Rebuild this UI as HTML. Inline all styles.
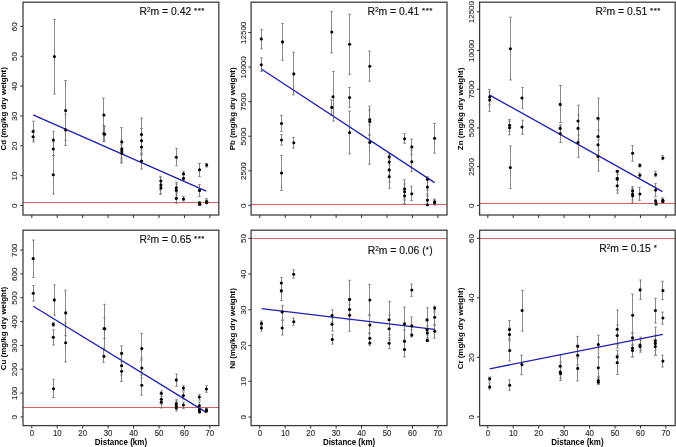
<!DOCTYPE html>
<html><head><meta charset="utf-8"><title>Metal concentrations vs distance</title>
<style>
html,body{margin:0;padding:0;background:#fff;}
body{width:676px;height:447px;overflow:hidden;}
svg{display:block;will-change:transform;}
text{font-family:"Liberation Sans",sans-serif;}
.tl{font-size:7.6px;fill:#262626;stroke:#333;stroke-width:0.12px;}
.yl{font-size:8px;}
.yt{font-size:7.95px;font-weight:bold;fill:#000;}
.xt{font-size:8px;font-weight:bold;fill:#000;}
.r2{font-size:10.35px;fill:#111;stroke:#111;stroke-width:0.15px;}
.sup{font-size:6.4px;}
.st{font-size:8px;letter-spacing:0.5px;}
</style></head>
<body>
<svg width="676" height="447" viewBox="0 0 676 447">
<rect width="676" height="447" fill="#fff"/>
<g><line x1="23" y1="202.5" x2="218.8" y2="202.5" stroke="#d46262" stroke-width="1"/><path d="M33.5 121.2V140M32.2 121.2h2.6M32.2 140h2.6M33.5 130V141.9M32.2 130h2.6M32.2 141.9h2.6M53.5 131.3V149M52.2 131.3h2.6M52.2 149h2.6M53.5 142V155.5M52.2 142h2.6M52.2 155.5h2.6M53.5 155.5V193.9M52.2 155.5h2.6M52.2 193.9h2.6M54.5 19.5V94M53.2 19.5h2.6M53.2 94h2.6M65.5 80.6V140.3M64.2 80.6h2.6M64.2 140.3h2.6M65.5 114.3V145.4M64.2 114.3h2.6M64.2 145.4h2.6M103.5 98.1V133M102.2 98.1h2.6M102.2 133h2.6M103.5 125.7V141.7M102.2 125.7h2.6M102.2 141.7h2.6M104.5 126V141M103.2 126h2.6M103.2 141h2.6M121.5 127.6V158M120.2 127.6h2.6M120.2 158h2.6M121.5 140V160M120.2 140h2.6M120.2 160h2.6M121.5 142V163.2M120.2 142h2.6M120.2 163.2h2.6M121.5 145V162M120.2 145h2.6M120.2 162h2.6M141.5 118.2V150M140.2 118.2h2.6M140.2 150h2.6M141.5 128.4V155M140.2 128.4h2.6M140.2 155h2.6M141.5 140V154M140.2 140h2.6M140.2 154h2.6M141.5 153V169.1M140.2 153h2.6M140.2 169.1h2.6M160.5 176.3V190M159.2 176.3h2.6M159.2 190h2.6M160.5 178V194.3M159.2 178h2.6M159.2 194.3h2.6M160.5 181V194M159.2 181h2.6M159.2 194h2.6M176.5 148.3V165.8M175.2 148.3h2.6M175.2 165.8h2.6M176.5 182.3V195M175.2 182.3h2.6M175.2 195h2.6M176.5 184V198M175.2 184h2.6M175.2 198h2.6M176.5 193V203.4M175.2 193h2.6M175.2 203.4h2.6M183.5 171.3V178M182.2 171.3h2.6M182.2 178h2.6M183.5 175V180.4M182.2 175h2.6M182.2 180.4h2.6M183.5 196.4V201M182.2 196.4h2.6M182.2 201h2.6M199.5 163.5V176.5M198.2 163.5h2.6M198.2 176.5h2.6M199.5 184.6V196.4M198.2 184.6h2.6M198.2 196.4h2.6M199.5 201.5V204.5M198.2 201.5h2.6M198.2 204.5h2.6M199.5 202.5V205.5M198.2 202.5h2.6M198.2 205.5h2.6M206.5 163.5V167M205.2 163.5h2.6M205.2 167h2.6M206.5 198.7V203M205.2 198.7h2.6M205.2 203h2.6M206.5 200V203.9M205.2 200h2.6M205.2 203.9h2.6" stroke="#7a7a7a" stroke-width="0.9" fill="none"/><line x1="33.1" y1="114.9" x2="206.2" y2="191.2" stroke="#2020a8" stroke-width="1.3"/><circle cx="33.1" cy="131.5" r="1.55"/><circle cx="33.1" cy="136.8" r="1.55"/><circle cx="53.3" cy="140" r="1.55"/><circle cx="53.3" cy="149" r="1.55"/><circle cx="53.3" cy="174.8" r="1.55"/><circle cx="54.4" cy="56.6" r="1.55"/><circle cx="65.6" cy="110.6" r="1.55"/><circle cx="65.6" cy="129.9" r="1.55"/><circle cx="103.9" cy="115.1" r="1.55"/><circle cx="103.9" cy="133.8" r="1.55"/><circle cx="104.7" cy="134.3" r="1.55"/><circle cx="121.8" cy="142" r="1.55"/><circle cx="121.8" cy="148.9" r="1.55"/><circle cx="121.8" cy="151" r="1.55"/><circle cx="121.8" cy="153.2" r="1.55"/><circle cx="141.5" cy="134.5" r="1.55"/><circle cx="141.5" cy="140.8" r="1.55"/><circle cx="141.5" cy="147" r="1.55"/><circle cx="141.5" cy="161" r="1.55"/><circle cx="160.9" cy="181" r="1.55"/><circle cx="160.9" cy="184.9" r="1.55"/><circle cx="160.9" cy="187.9" r="1.55"/><circle cx="176.3" cy="157.2" r="1.55"/><circle cx="176.3" cy="187.8" r="1.55"/><circle cx="176.3" cy="190.4" r="1.55"/><circle cx="176.3" cy="198.4" r="1.55"/><circle cx="183.5" cy="173.7" r="1.55"/><circle cx="183.5" cy="178.4" r="1.55"/><circle cx="183.5" cy="199" r="1.55"/><circle cx="199.5" cy="169.8" r="1.55"/><circle cx="199.5" cy="190.4" r="1.55"/><circle cx="199.5" cy="203.1" r="1.55"/><circle cx="199.9" cy="204.2" r="1.55"/><circle cx="206.7" cy="165.1" r="1.55"/><circle cx="206.7" cy="201.5" r="1.55"/><circle cx="206.7" cy="202.6" r="1.55"/><rect x="23" y="2.2" width="195.8" height="212.8" fill="none" stroke="#383838" stroke-width="1.25"/><path d="M23 205.5h-2.7M23 175.65h-2.7M23 145.8h-2.7M23 115.95h-2.7M23 86.1h-2.7M23 56.25h-2.7M23 26.4h-2.7M31.8 215v3M57.24 215v3M82.68 215v3M108.12 215v3M133.56 215v3M159 215v3M184.44 215v3M209.88 215v3" stroke="#333" stroke-width="1" fill="none"/><text class="tl yl" transform="translate(17.4 205.8) rotate(-90)" text-anchor="middle">0</text><text class="tl yl" transform="translate(17.4 175.95) rotate(-90)" text-anchor="middle">10</text><text class="tl yl" transform="translate(17.4 146.1) rotate(-90)" text-anchor="middle">20</text><text class="tl yl" transform="translate(17.4 116.25) rotate(-90)" text-anchor="middle">30</text><text class="tl yl" transform="translate(17.4 86.4) rotate(-90)" text-anchor="middle">40</text><text class="tl yl" transform="translate(17.4 56.55) rotate(-90)" text-anchor="middle">50</text><text class="tl yl" transform="translate(17.4 26.7) rotate(-90)" text-anchor="middle">60</text><text class="yt" transform="translate(6.4 108.9) rotate(-90)" text-anchor="middle">Cd (mg/kg dry weight)</text><text class="r2" x="172.23" y="15.3" text-anchor="middle">R<tspan class="sup" dy="-3.6">2</tspan><tspan dy="3.6">m</tspan> = 0.42 <tspan class="st" dy="-2.6">***</tspan></text></g>
<g><line x1="251.1" y1="204.5" x2="447" y2="204.5" stroke="#d46262" stroke-width="1"/><path d="M261.5 29.6V48.8M260.2 29.6h2.6M260.2 48.8h2.6M261.5 57.9V71.4M260.2 57.9h2.6M260.2 71.4h2.6M282.5 23.4V60.3M281.2 23.4h2.6M281.2 60.3h2.6M281.5 115.6V131.4M280.2 115.6h2.6M280.2 131.4h2.6M281.5 134.6V145.1M280.2 134.6h2.6M280.2 145.1h2.6M281.5 155.5V190.5M280.2 155.5h2.6M280.2 190.5h2.6M293.5 52.2V94.8M292.2 52.2h2.6M292.2 94.8h2.6M293.5 137.5V148.1M292.2 137.5h2.6M292.2 148.1h2.6M331.5 11.6V53M330.2 11.6h2.6M330.2 53h2.6M333.5 71.4V121.1M332.2 71.4h2.6M332.2 121.1h2.6M331.5 100V115M330.2 100h2.6M330.2 115h2.6M349.5 14.3V74.4M348.2 14.3h2.6M348.2 74.4h2.6M349.5 87.4V107.3M348.2 87.4h2.6M348.2 107.3h2.6M349.5 111.2V153.8M348.2 111.2h2.6M348.2 153.8h2.6M369.5 51V81.2M368.2 51h2.6M368.2 81.2h2.6M369.5 106.2V135M368.2 106.2h2.6M368.2 135h2.6M369.5 110V135M368.2 110h2.6M368.2 135h2.6M369.5 125V164.1M368.2 125h2.6M368.2 164.1h2.6M389.5 153.5V170M388.2 153.5h2.6M388.2 170h2.6M389.5 155V175M388.2 155h2.6M388.2 175h2.6M389.5 160V182M388.2 160h2.6M388.2 182h2.6M389.5 165V188.3M388.2 165h2.6M388.2 188.3h2.6M404.5 133.6V143.3M403.2 133.6h2.6M403.2 143.3h2.6M404.5 179.7V198M403.2 179.7h2.6M403.2 198h2.6M404.5 184V200M403.2 184h2.6M403.2 200h2.6M404.5 188V203.5M403.2 188h2.6M403.2 203.5h2.6M411.5 139V154.3M410.2 139h2.6M410.2 154.3h2.6M411.5 150V171.5M410.2 150h2.6M410.2 171.5h2.6M411.5 186.2V200.6M410.2 186.2h2.6M410.2 200.6h2.6M427.5 176.8V190M426.2 176.8h2.6M426.2 190h2.6M427.5 180V196M426.2 180h2.6M426.2 196h2.6M427.5 194V205M426.2 194h2.6M426.2 205h2.6M427.5 201V205M426.2 201h2.6M426.2 205h2.6M434.5 123.5V153.2M433.2 123.5h2.6M433.2 153.2h2.6M434.5 199V204.8M433.2 199h2.6M433.2 204.8h2.6M434.5 200V204.8M433.2 200h2.6M433.2 204.8h2.6" stroke="#7a7a7a" stroke-width="0.9" fill="none"/><line x1="261.3" y1="69" x2="434.6" y2="182.6" stroke="#2020a8" stroke-width="1.3"/><circle cx="261.3" cy="38.9" r="1.55"/><circle cx="261.3" cy="64.8" r="1.55"/><circle cx="282.5" cy="41.9" r="1.55"/><circle cx="281.5" cy="123.5" r="1.55"/><circle cx="281.5" cy="140" r="1.55"/><circle cx="281.5" cy="173" r="1.55"/><circle cx="293.8" cy="73.9" r="1.55"/><circle cx="293.8" cy="142.7" r="1.55"/><circle cx="331.8" cy="32" r="1.55"/><circle cx="333" cy="96.8" r="1.55"/><circle cx="331.8" cy="107.4" r="1.55"/><circle cx="349.6" cy="44.3" r="1.55"/><circle cx="349.6" cy="97.6" r="1.55"/><circle cx="349.6" cy="132.6" r="1.55"/><circle cx="369.8" cy="66.2" r="1.55"/><circle cx="369.8" cy="119.5" r="1.55"/><circle cx="369.8" cy="121.5" r="1.55"/><circle cx="369.8" cy="142.4" r="1.55"/><circle cx="389.2" cy="156.9" r="1.55"/><circle cx="389.2" cy="162.1" r="1.55"/><circle cx="389.2" cy="169.9" r="1.55"/><circle cx="389.2" cy="176.7" r="1.55"/><circle cx="404.6" cy="138.8" r="1.55"/><circle cx="404.6" cy="189" r="1.55"/><circle cx="404.6" cy="191.8" r="1.55"/><circle cx="404.6" cy="195.8" r="1.55"/><circle cx="411.8" cy="146.9" r="1.55"/><circle cx="411.8" cy="161.7" r="1.55"/><circle cx="411.8" cy="193.8" r="1.55"/><circle cx="427.4" cy="179.3" r="1.55"/><circle cx="427.4" cy="187.1" r="1.55"/><circle cx="427.4" cy="200.1" r="1.55"/><circle cx="427.4" cy="204.8" r="1.55"/><circle cx="434.6" cy="138.2" r="1.55"/><circle cx="434.6" cy="201.8" r="1.55"/><circle cx="434.6" cy="203" r="1.55"/><rect x="251.1" y="2.2" width="195.9" height="212.8" fill="none" stroke="#383838" stroke-width="1.25"/><path d="M251.1 205.4h-2.7M251.1 170.82h-2.7M251.1 136.24h-2.7M251.1 101.66h-2.7M251.1 67.08h-2.7M251.1 32.5h-2.7M259.8 215v3M285.24 215v3M310.68 215v3M336.12 215v3M361.56 215v3M387 215v3M412.44 215v3M437.88 215v3" stroke="#333" stroke-width="1" fill="none"/><text class="tl yl" transform="translate(245.5 205.7) rotate(-90)" text-anchor="middle">0</text><text class="tl yl" transform="translate(245.5 171.12) rotate(-90)" text-anchor="middle">2500</text><text class="tl yl" transform="translate(245.5 136.54) rotate(-90)" text-anchor="middle">5000</text><text class="tl yl" transform="translate(245.5 101.96) rotate(-90)" text-anchor="middle">7500</text><text class="tl yl" transform="translate(245.5 67.38) rotate(-90)" text-anchor="middle">10000</text><text class="tl yl" transform="translate(245.5 32.8) rotate(-90)" text-anchor="middle">12500</text><text class="yt" transform="translate(234.5 108.9) rotate(-90)" text-anchor="middle">Pb (mg/kg dry weight)</text><text class="r2" x="400.23" y="15.3" text-anchor="middle">R<tspan class="sup" dy="-3.6">2</tspan><tspan dy="3.6">m</tspan> = 0.41 <tspan class="st" dy="-2.6">***</tspan></text></g>
<g><line x1="479.6" y1="203.5" x2="675.2" y2="203.5" stroke="#d46262" stroke-width="1"/><path d="M489.5 89.4V105M488.2 89.4h2.6M488.2 105h2.6M489.5 92V111.3M488.2 92h2.6M488.2 111.3h2.6M510.5 17.2V80M509.2 17.2h2.6M509.2 80h2.6M509.5 119.5V131M508.2 119.5h2.6M508.2 131h2.6M509.5 121V134.8M508.2 121h2.6M508.2 134.8h2.6M510.5 146V188.6M509.2 146h2.6M509.2 188.6h2.6M522.5 87.4V108.2M521.2 87.4h2.6M521.2 108.2h2.6M522.5 120.2V134.3M521.2 120.2h2.6M521.2 134.3h2.6M560.5 85.5V122.5M559.2 85.5h2.6M559.2 122.5h2.6M560.5 124.8V133M559.2 124.8h2.6M559.2 133h2.6M560.5 126V142.5M559.2 126h2.6M559.2 142.5h2.6M578.5 105.2V135M577.2 105.2h2.6M577.2 135h2.6M578.5 115V140M577.2 115h2.6M577.2 140h2.6M578.5 128V157.3M577.2 128h2.6M577.2 157.3h2.6M598.5 98.1V137M597.2 98.1h2.6M597.2 137h2.6M598.5 120V150M597.2 120h2.6M597.2 150h2.6M598.5 130V160M597.2 130h2.6M597.2 160h2.6M598.5 140V171M597.2 140h2.6M597.2 171h2.6M617.5 170.5V180M616.2 170.5h2.6M616.2 180h2.6M617.5 172V186M616.2 172h2.6M616.2 186h2.6M617.5 174V190M616.2 174h2.6M616.2 190h2.6M617.5 178V193.2M616.2 178h2.6M616.2 193.2h2.6M632.5 145.5V161.1M631.2 145.5h2.6M631.2 161.1h2.6M632.5 186.7V197M631.2 186.7h2.6M631.2 197h2.6M632.5 188V200M631.2 188h2.6M631.2 200h2.6M632.5 190V202.6M631.2 190h2.6M631.2 202.6h2.6M639.5 164V167M638.2 164h2.6M638.2 167h2.6M639.5 172.9V177.6M638.2 172.9h2.6M638.2 177.6h2.6M639.5 187.3V200.3M638.2 187.3h2.6M638.2 200.3h2.6M655.5 171.3V176.8M654.2 171.3h2.6M654.2 176.8h2.6M655.5 183.4V196.4M654.2 183.4h2.6M654.2 196.4h2.6M655.5 199V203.5M654.2 199h2.6M654.2 203.5h2.6M656.5 202V205M655.2 202h2.6M655.2 205h2.6M662.5 155.7V159.6M661.2 155.7h2.6M661.2 159.6h2.6M662.5 197.9V202M661.2 197.9h2.6M661.2 202h2.6M662.5 199V202.6M661.2 199h2.6M661.2 202.6h2.6" stroke="#7a7a7a" stroke-width="0.9" fill="none"/><line x1="489.7" y1="95.1" x2="662.5" y2="191.6" stroke="#2020a8" stroke-width="1.3"/><circle cx="489.7" cy="96.9" r="1.55"/><circle cx="489.7" cy="100" r="1.55"/><circle cx="510.4" cy="48.8" r="1.55"/><circle cx="509.6" cy="125.2" r="1.55"/><circle cx="509.6" cy="127.8" r="1.55"/><circle cx="510.3" cy="167.5" r="1.55"/><circle cx="522" cy="98" r="1.55"/><circle cx="522" cy="127" r="1.55"/><circle cx="560.2" cy="104.4" r="1.55"/><circle cx="560.2" cy="128.4" r="1.55"/><circle cx="560.2" cy="133.8" r="1.55"/><circle cx="578" cy="121" r="1.55"/><circle cx="578" cy="128.4" r="1.55"/><circle cx="578" cy="142.5" r="1.55"/><circle cx="598" cy="118.2" r="1.55"/><circle cx="598" cy="136.5" r="1.55"/><circle cx="598" cy="144.8" r="1.55"/><circle cx="598" cy="156.4" r="1.55"/><circle cx="617.2" cy="171.3" r="1.55"/><circle cx="617.2" cy="178.4" r="1.55"/><circle cx="617.2" cy="179.1" r="1.55"/><circle cx="617.2" cy="185.7" r="1.55"/><circle cx="632.6" cy="153.3" r="1.55"/><circle cx="632.6" cy="190.9" r="1.55"/><circle cx="632.6" cy="194" r="1.55"/><circle cx="632.6" cy="195.6" r="1.55"/><circle cx="639.9" cy="165.4" r="1.55"/><circle cx="639.9" cy="175.2" r="1.55"/><circle cx="639.9" cy="194" r="1.55"/><circle cx="655.6" cy="174.5" r="1.55"/><circle cx="655.6" cy="190.1" r="1.55"/><circle cx="655.6" cy="201.1" r="1.55"/><circle cx="656" cy="203.9" r="1.55"/><circle cx="662.9" cy="158" r="1.55"/><circle cx="662.9" cy="200.3" r="1.55"/><circle cx="662.9" cy="201.5" r="1.55"/><rect x="479.6" y="2.2" width="195.6" height="212.8" fill="none" stroke="#383838" stroke-width="1.25"/><path d="M479.6 205.4h-2.7M479.6 166.68h-2.7M479.6 127.96h-2.7M479.6 89.24h-2.7M479.6 50.52h-2.7M479.6 11.8h-2.7M487.8 215v3M513.24 215v3M538.68 215v3M564.12 215v3M589.56 215v3M615 215v3M640.44 215v3M665.88 215v3" stroke="#333" stroke-width="1" fill="none"/><text class="tl yl" transform="translate(474 205.7) rotate(-90)" text-anchor="middle">0</text><text class="tl yl" transform="translate(474 166.98) rotate(-90)" text-anchor="middle">2500</text><text class="tl yl" transform="translate(474 128.26) rotate(-90)" text-anchor="middle">5000</text><text class="tl yl" transform="translate(474 89.54) rotate(-90)" text-anchor="middle">7500</text><text class="tl yl" transform="translate(474 50.82) rotate(-90)" text-anchor="middle">10000</text><text class="tl yl" transform="translate(474 12.1) rotate(-90)" text-anchor="middle">12500</text><text class="yt" transform="translate(463 108.9) rotate(-90)" text-anchor="middle">Zn (mg/kg dry weight)</text><text class="r2" x="628.23" y="15.3" text-anchor="middle">R<tspan class="sup" dy="-3.6">2</tspan><tspan dy="3.6">m</tspan> = 0.51 <tspan class="st" dy="-2.6">***</tspan></text></g>
<g><line x1="23" y1="407.5" x2="218.8" y2="407.5" stroke="#d46262" stroke-width="1"/><path d="M33.5 240V277.4M32.2 240h2.6M32.2 277.4h2.6M33.5 285.5V301.1M32.2 285.5h2.6M32.2 301.1h2.6M54.5 285V315.2M53.2 285h2.6M53.2 315.2h2.6M53.5 322.5V326.3M52.2 322.5h2.6M52.2 326.3h2.6M53.5 329.8V345M52.2 329.8h2.6M52.2 345h2.6M53.5 379.4V397.5M52.2 379.4h2.6M52.2 397.5h2.6M65.5 290.2V335.6M64.2 290.2h2.6M64.2 335.6h2.6M65.5 323V361.8M64.2 323h2.6M64.2 361.8h2.6M104.5 304.3V350M103.2 304.3h2.6M103.2 350h2.6M104.5 318V338.5M103.2 318h2.6M103.2 338.5h2.6M103.5 348.2V362.3M102.2 348.2h2.6M102.2 362.3h2.6M121.5 345.8V365M120.2 345.8h2.6M120.2 365h2.6M121.5 355V375M120.2 355h2.6M120.2 375h2.6M121.5 362V381.5M120.2 362h2.6M120.2 381.5h2.6M141.5 333.4V360M140.2 333.4h2.6M140.2 360h2.6M141.5 358V378M140.2 358h2.6M140.2 378h2.6M141.5 375V395.1M140.2 375h2.6M140.2 395.1h2.6M161.5 390.9V400M160.2 390.9h2.6M160.2 400h2.6M161.5 394V404M160.2 394h2.6M160.2 404h2.6M161.5 396V408M160.2 396h2.6M160.2 408h2.6M176.5 374V386.2M175.2 374h2.6M175.2 386.2h2.6M176.5 399.8V407M175.2 399.8h2.6M175.2 407h2.6M176.5 401V409M175.2 401h2.6M175.2 409h2.6M176.5 404V411M175.2 404h2.6M175.2 411h2.6M183.5 385.7V390.4M182.2 385.7h2.6M182.2 390.4h2.6M183.5 392V399M182.2 392h2.6M182.2 399h2.6M183.5 402.2V408.7M182.2 402.2h2.6M182.2 408.7h2.6M199.5 394.6V400M198.2 394.6h2.6M198.2 400h2.6M199.5 402V408M198.2 402h2.6M198.2 408h2.6M199.5 405V412M198.2 405h2.6M198.2 412h2.6M199.5 409V412.7M198.2 409h2.6M198.2 412.7h2.6M206.5 385.7V392.3M205.2 385.7h2.6M205.2 392.3h2.6M206.5 408V411M205.2 408h2.6M205.2 411h2.6M206.5 408.5V412M205.2 408.5h2.6M205.2 412h2.6" stroke="#7a7a7a" stroke-width="0.9" fill="none"/><line x1="33.3" y1="306.3" x2="206.3" y2="412.4" stroke="#2020a8" stroke-width="1.3"/><circle cx="33.2" cy="258.6" r="1.55"/><circle cx="33.3" cy="293.3" r="1.55"/><circle cx="54.3" cy="299.9" r="1.55"/><circle cx="53.3" cy="324.4" r="1.55"/><circle cx="53.3" cy="337.2" r="1.55"/><circle cx="53.5" cy="388.8" r="1.55"/><circle cx="65.7" cy="312.9" r="1.55"/><circle cx="65.6" cy="342.8" r="1.55"/><circle cx="104.1" cy="328.6" r="1.55"/><circle cx="104.8" cy="328.8" r="1.55"/><circle cx="103.9" cy="356.4" r="1.55"/><circle cx="121.6" cy="353.3" r="1.55"/><circle cx="121.6" cy="365.8" r="1.55"/><circle cx="121.6" cy="371.2" r="1.55"/><circle cx="141.8" cy="348.6" r="1.55"/><circle cx="141.8" cy="368.1" r="1.55"/><circle cx="141.8" cy="385.3" r="1.55"/><circle cx="161.3" cy="393.2" r="1.55"/><circle cx="161.3" cy="399.3" r="1.55"/><circle cx="161.3" cy="402.2" r="1.55"/><circle cx="176.3" cy="379.9" r="1.55"/><circle cx="176.3" cy="403.6" r="1.55"/><circle cx="176.3" cy="405.7" r="1.55"/><circle cx="176.3" cy="408" r="1.55"/><circle cx="183.4" cy="388.1" r="1.55"/><circle cx="183.4" cy="395.6" r="1.55"/><circle cx="183.4" cy="405" r="1.55"/><circle cx="199.3" cy="397" r="1.55"/><circle cx="199.3" cy="405.7" r="1.55"/><circle cx="199.3" cy="409.9" r="1.55"/><circle cx="199.6" cy="412" r="1.55"/><circle cx="206.4" cy="389" r="1.55"/><circle cx="206.4" cy="409.9" r="1.55"/><circle cx="206.4" cy="411" r="1.55"/><rect x="23" y="230.2" width="195.8" height="195.4" fill="none" stroke="#383838" stroke-width="1.25"/><path d="M23 416.9h-2.7M23 393.07h-2.7M23 369.24h-2.7M23 345.41h-2.7M23 321.58h-2.7M23 297.75h-2.7M23 273.92h-2.7M23 250.09h-2.7M31.8 425.6v3M57.24 425.6v3M82.68 425.6v3M108.12 425.6v3M133.56 425.6v3M159 425.6v3M184.44 425.6v3M209.88 425.6v3" stroke="#333" stroke-width="1" fill="none"/><text class="tl yl" transform="translate(17.4 417.2) rotate(-90)" text-anchor="middle">0</text><text class="tl yl" transform="translate(17.4 393.37) rotate(-90)" text-anchor="middle">100</text><text class="tl yl" transform="translate(17.4 369.54) rotate(-90)" text-anchor="middle">200</text><text class="tl yl" transform="translate(17.4 345.71) rotate(-90)" text-anchor="middle">300</text><text class="tl yl" transform="translate(17.4 321.88) rotate(-90)" text-anchor="middle">400</text><text class="tl yl" transform="translate(17.4 298.05) rotate(-90)" text-anchor="middle">500</text><text class="tl yl" transform="translate(17.4 274.22) rotate(-90)" text-anchor="middle">600</text><text class="tl yl" transform="translate(17.4 250.39) rotate(-90)" text-anchor="middle">700</text><text class="yt" transform="translate(6.4 328.5) rotate(-90)" text-anchor="middle">Cu (mg/kg dry weight)</text><text class="r2" x="172.23" y="243.3" text-anchor="middle">R<tspan class="sup" dy="-3.6">2</tspan><tspan dy="3.6">m</tspan> = 0.65 <tspan class="st" dy="-2.6">***</tspan></text><text class="tl" transform="translate(31.8 436) scale(1.03 1.1)" text-anchor="middle">0</text><text class="tl" transform="translate(57.24 436) scale(1.03 1.1)" text-anchor="middle">10</text><text class="tl" transform="translate(82.68 436) scale(1.03 1.1)" text-anchor="middle">20</text><text class="tl" transform="translate(108.12 436) scale(1.03 1.1)" text-anchor="middle">30</text><text class="tl" transform="translate(133.56 436) scale(1.03 1.1)" text-anchor="middle">40</text><text class="tl" transform="translate(159 436) scale(1.03 1.1)" text-anchor="middle">50</text><text class="tl" transform="translate(184.44 436) scale(1.03 1.1)" text-anchor="middle">60</text><text class="tl" transform="translate(209.88 436) scale(1.03 1.1)" text-anchor="middle">70</text><text class="xt" transform="translate(120.9 444.5) scale(1 1.13)" text-anchor="middle">Distance (km)</text></g>
<g><line x1="251.1" y1="238.5" x2="447" y2="238.5" stroke="#d46262" stroke-width="1"/><path d="M261.5 321V326M260.2 321h2.6M260.2 326h2.6M261.5 325V331.1M260.2 325h2.6M260.2 331.1h2.6M281.5 277.4V290M280.2 277.4h2.6M280.2 290h2.6M281.5 283V300.5M280.2 283h2.6M280.2 300.5h2.6M282.5 305.6V320.2M281.2 305.6h2.6M281.2 320.2h2.6M282.5 320.2V335M281.2 320.2h2.6M281.2 335h2.6M293.5 269.8V278.1M292.2 269.8h2.6M292.2 278.1h2.6M293.5 318.1V325.2M292.2 318.1h2.6M292.2 325.2h2.6M332.5 309.9V322M331.2 309.9h2.6M331.2 322h2.6M332.5 318V331.1M331.2 318h2.6M331.2 331.1h2.6M332.5 334.3V344.1M331.2 334.3h2.6M331.2 344.1h2.6M349.5 280.3V310M348.2 280.3h2.6M348.2 310h2.6M349.5 300V320M348.2 300h2.6M348.2 320h2.6M349.5 305V331.3M348.2 305h2.6M348.2 331.3h2.6M369.5 284.4V315M368.2 284.4h2.6M368.2 315h2.6M369.5 315V333M368.2 315h2.6M368.2 333h2.6M369.5 333.6V343M368.2 333.6h2.6M368.2 343h2.6M369.5 338V345.4M368.2 338h2.6M368.2 345.4h2.6M389.5 301.3V335M388.2 301.3h2.6M388.2 335h2.6M389.5 315V340M388.2 315h2.6M388.2 340h2.6M389.5 338V348.7M388.2 338h2.6M388.2 348.7h2.6M404.5 307.2V340M403.2 307.2h2.6M403.2 340h2.6M404.5 330V350M403.2 330h2.6M403.2 350h2.6M404.5 342V357M403.2 342h2.6M403.2 357h2.6M411.5 284.1V296.3M410.2 284.1h2.6M410.2 296.3h2.6M411.5 317.1V334M410.2 317.1h2.6M410.2 334h2.6M411.5 330V337M410.2 330h2.6M410.2 337h2.6M427.5 307.8V330M426.2 307.8h2.6M426.2 330h2.6M427.5 320V338M426.2 320h2.6M426.2 338h2.6M427.5 326V338M426.2 326h2.6M426.2 338h2.6M427.5 335V341.5M426.2 335h2.6M426.2 341.5h2.6M434.5 306V312M433.2 306h2.6M433.2 312h2.6M434.5 310V325M433.2 310h2.6M433.2 325h2.6M434.5 325V338.3M433.2 325h2.6M433.2 338.3h2.6" stroke="#7a7a7a" stroke-width="0.9" fill="none"/><line x1="261.6" y1="308.7" x2="434.7" y2="329.3" stroke="#2020a8" stroke-width="1.3"/><circle cx="261.4" cy="323.4" r="1.55"/><circle cx="261.4" cy="328" r="1.55"/><circle cx="281.3" cy="283" r="1.55"/><circle cx="281.3" cy="290.9" r="1.55"/><circle cx="282.2" cy="312" r="1.55"/><circle cx="282.2" cy="328" r="1.55"/><circle cx="293.7" cy="274.3" r="1.55"/><circle cx="293.8" cy="321.7" r="1.55"/><circle cx="332" cy="315.6" r="1.55"/><circle cx="332" cy="324.3" r="1.55"/><circle cx="332.3" cy="339.4" r="1.55"/><circle cx="349.6" cy="299.4" r="1.55"/><circle cx="349.6" cy="309.4" r="1.55"/><circle cx="349.6" cy="315.2" r="1.55"/><circle cx="369.9" cy="300" r="1.55"/><circle cx="369.9" cy="325" r="1.55"/><circle cx="369.9" cy="338.3" r="1.55"/><circle cx="369.9" cy="343" r="1.55"/><circle cx="389.1" cy="319.8" r="1.55"/><circle cx="389.1" cy="328.8" r="1.55"/><circle cx="389.1" cy="343.2" r="1.55"/><circle cx="404.5" cy="323.7" r="1.55"/><circle cx="404.5" cy="341.2" r="1.55"/><circle cx="404.5" cy="349.5" r="1.55"/><circle cx="411.8" cy="290" r="1.55"/><circle cx="411.8" cy="325.9" r="1.55"/><circle cx="411.8" cy="335.1" r="1.55"/><circle cx="427" cy="319.9" r="1.55"/><circle cx="427" cy="329.7" r="1.55"/><circle cx="427.3" cy="332.9" r="1.55"/><circle cx="427.3" cy="340.4" r="1.55"/><circle cx="434.7" cy="308.1" r="1.55"/><circle cx="434.7" cy="317.2" r="1.55"/><circle cx="434.7" cy="331.3" r="1.55"/><rect x="251.1" y="230.2" width="195.9" height="195.4" fill="none" stroke="#383838" stroke-width="1.25"/><path d="M251.1 417h-2.7M251.1 381.26h-2.7M251.1 345.52h-2.7M251.1 309.78h-2.7M251.1 274.04h-2.7M251.1 238.3h-2.7M259.8 425.6v3M285.24 425.6v3M310.68 425.6v3M336.12 425.6v3M361.56 425.6v3M387 425.6v3M412.44 425.6v3M437.88 425.6v3" stroke="#333" stroke-width="1" fill="none"/><text class="tl yl" transform="translate(245.5 417.3) rotate(-90)" text-anchor="middle">0</text><text class="tl yl" transform="translate(245.5 381.56) rotate(-90)" text-anchor="middle">10</text><text class="tl yl" transform="translate(245.5 345.82) rotate(-90)" text-anchor="middle">20</text><text class="tl yl" transform="translate(245.5 310.08) rotate(-90)" text-anchor="middle">30</text><text class="tl yl" transform="translate(245.5 274.34) rotate(-90)" text-anchor="middle">40</text><text class="tl yl" transform="translate(245.5 238.6) rotate(-90)" text-anchor="middle">50</text><text class="yt" transform="translate(234.5 328.5) rotate(-90)" text-anchor="middle">Ni (mg/kg dry weight)</text><text class="r2" x="400.23" y="254.4" text-anchor="middle">R<tspan class="sup" dy="-3.6">2</tspan><tspan dy="3.6">m</tspan> = 0.06 (<tspan class="st" dy="-2.4">*</tspan><tspan dy="2.4">)</tspan></text><text class="tl" transform="translate(259.8 436) scale(1.03 1.1)" text-anchor="middle">0</text><text class="tl" transform="translate(285.24 436) scale(1.03 1.1)" text-anchor="middle">10</text><text class="tl" transform="translate(310.68 436) scale(1.03 1.1)" text-anchor="middle">20</text><text class="tl" transform="translate(336.12 436) scale(1.03 1.1)" text-anchor="middle">30</text><text class="tl" transform="translate(361.56 436) scale(1.03 1.1)" text-anchor="middle">40</text><text class="tl" transform="translate(387 436) scale(1.03 1.1)" text-anchor="middle">50</text><text class="tl" transform="translate(412.44 436) scale(1.03 1.1)" text-anchor="middle">60</text><text class="tl" transform="translate(437.88 436) scale(1.03 1.1)" text-anchor="middle">70</text><text class="xt" transform="translate(349.05 444.5) scale(1 1.13)" text-anchor="middle">Distance (km)</text></g>
<g><line x1="479.6" y1="238.5" x2="675.2" y2="238.5" stroke="#d46262" stroke-width="1"/><path d="M489.5 377V381M488.2 377h2.6M488.2 381h2.6M489.5 383V389.2M488.2 383h2.6M488.2 389.2h2.6M509.5 320.6V338M508.2 320.6h2.6M508.2 338h2.6M509.5 328V340M508.2 328h2.6M508.2 340h2.6M509.5 340V361M508.2 340h2.6M508.2 361h2.6M509.5 379.9V390.4M508.2 379.9h2.6M508.2 390.4h2.6M522.5 290.4V331M521.2 290.4h2.6M521.2 331h2.6M521.5 355.2V374.7M520.2 355.2h2.6M520.2 374.7h2.6M560.5 355.2V375M559.2 355.2h2.6M559.2 375h2.6M560.5 362V378M559.2 362h2.6M559.2 378h2.6M560.5 365V380.6M559.2 365h2.6M559.2 380.6h2.6M577.5 336.4V356M576.2 336.4h2.6M576.2 356h2.6M577.5 345V365M576.2 345h2.6M576.2 365h2.6M577.5 358V381M576.2 358h2.6M576.2 381h2.6M598.5 335.3V357.6M597.2 335.3h2.6M597.2 357.6h2.6M598.5 357V378M597.2 357h2.6M597.2 378h2.6M598.5 376.3V384M597.2 376.3h2.6M597.2 384h2.6M598.5 378V384.6M597.2 378h2.6M597.2 384.6h2.6M617.5 310V345M616.2 310h2.6M616.2 345h2.6M617.5 325V348.1M616.2 325h2.6M616.2 348.1h2.6M617.5 350.5V362M616.2 350.5h2.6M616.2 362h2.6M617.5 355V374.5M616.2 355h2.6M616.2 374.5h2.6M632.5 294.1V333.2M631.2 294.1h2.6M631.2 333.2h2.6M632.5 332.9V345M631.2 332.9h2.6M631.2 345h2.6M632.5 340V356.9M631.2 340h2.6M631.2 356.9h2.6M632.5 345V356.9M631.2 345h2.6M631.2 356.9h2.6M640.5 280V299.6M639.2 280h2.6M639.2 299.6h2.6M640.5 337.2V350M639.2 337.2h2.6M639.2 350h2.6M640.5 340V352.2M639.2 340h2.6M639.2 352.2h2.6M655.5 298.3V323.1M654.2 298.3h2.6M654.2 323.1h2.6M655.5 327V350M654.2 327h2.6M654.2 350h2.6M655.5 335V355.2M654.2 335h2.6M654.2 355.2h2.6M655.5 340V355.2M654.2 340h2.6M654.2 355.2h2.6M662.5 281.3V299.6M661.2 281.3h2.6M661.2 299.6h2.6M662.5 312.1V324.2M661.2 312.1h2.6M661.2 324.2h2.6M662.5 355.2V367M661.2 355.2h2.6M661.2 367h2.6" stroke="#7a7a7a" stroke-width="0.9" fill="none"/><line x1="489.7" y1="368.8" x2="662.9" y2="334.4" stroke="#2020a8" stroke-width="1.3"/><circle cx="489.7" cy="378.7" r="1.55"/><circle cx="489.7" cy="386.9" r="1.55"/><circle cx="509.5" cy="329.6" r="1.55"/><circle cx="509.5" cy="334.6" r="1.55"/><circle cx="509.7" cy="350.5" r="1.55"/><circle cx="509.7" cy="385.3" r="1.55"/><circle cx="522.1" cy="310.5" r="1.55"/><circle cx="521.9" cy="364.6" r="1.55"/><circle cx="560.2" cy="366.2" r="1.55"/><circle cx="560.2" cy="372.1" r="1.55"/><circle cx="560.6" cy="373.5" r="1.55"/><circle cx="577.7" cy="346.3" r="1.55"/><circle cx="577.7" cy="355.2" r="1.55"/><circle cx="577.7" cy="368.4" r="1.55"/><circle cx="598.3" cy="344.6" r="1.55"/><circle cx="598.3" cy="367.7" r="1.55"/><circle cx="598.3" cy="380.6" r="1.55"/><circle cx="598.3" cy="382.2" r="1.55"/><circle cx="617.2" cy="329.3" r="1.55"/><circle cx="617.2" cy="335.6" r="1.55"/><circle cx="617.2" cy="356.9" r="1.55"/><circle cx="617.2" cy="362.7" r="1.55"/><circle cx="632.7" cy="315.2" r="1.55"/><circle cx="632.5" cy="337.8" r="1.55"/><circle cx="632.5" cy="348.1" r="1.55"/><circle cx="632.5" cy="350.5" r="1.55"/><circle cx="640.1" cy="289.9" r="1.55"/><circle cx="640" cy="345" r="1.55"/><circle cx="640" cy="346.6" r="1.55"/><circle cx="655.4" cy="310.5" r="1.55"/><circle cx="655.3" cy="340.8" r="1.55"/><circle cx="655.3" cy="343.4" r="1.55"/><circle cx="655.3" cy="346.6" r="1.55"/><circle cx="662.9" cy="290.6" r="1.55"/><circle cx="662.9" cy="318" r="1.55"/><circle cx="662.9" cy="361.1" r="1.55"/><rect x="479.6" y="230.2" width="195.6" height="195.4" fill="none" stroke="#383838" stroke-width="1.25"/><path d="M479.6 416.9h-2.7M479.6 357.35h-2.7M479.6 297.8h-2.7M479.6 238.25h-2.7M487.8 425.6v3M513.24 425.6v3M538.68 425.6v3M564.12 425.6v3M589.56 425.6v3M615 425.6v3M640.44 425.6v3M665.88 425.6v3" stroke="#333" stroke-width="1" fill="none"/><text class="tl yl" transform="translate(474 417.2) rotate(-90)" text-anchor="middle">0</text><text class="tl yl" transform="translate(474 357.65) rotate(-90)" text-anchor="middle">20</text><text class="tl yl" transform="translate(474 298.1) rotate(-90)" text-anchor="middle">40</text><text class="tl yl" transform="translate(474 238.55) rotate(-90)" text-anchor="middle">60</text><text class="yt" transform="translate(463 328.5) rotate(-90)" text-anchor="middle">Cr (mg/kg dry weight)</text><text class="r2" x="628.23" y="252.2" text-anchor="middle">R<tspan class="sup" dy="-3.6">2</tspan><tspan dy="3.6">m</tspan> = 0.15 <tspan class="st" dy="-2.6">*</tspan></text><text class="tl" transform="translate(487.8 436) scale(1.03 1.1)" text-anchor="middle">0</text><text class="tl" transform="translate(513.24 436) scale(1.03 1.1)" text-anchor="middle">10</text><text class="tl" transform="translate(538.68 436) scale(1.03 1.1)" text-anchor="middle">20</text><text class="tl" transform="translate(564.12 436) scale(1.03 1.1)" text-anchor="middle">30</text><text class="tl" transform="translate(589.56 436) scale(1.03 1.1)" text-anchor="middle">40</text><text class="tl" transform="translate(615 436) scale(1.03 1.1)" text-anchor="middle">50</text><text class="tl" transform="translate(640.44 436) scale(1.03 1.1)" text-anchor="middle">60</text><text class="tl" transform="translate(665.88 436) scale(1.03 1.1)" text-anchor="middle">70</text><text class="xt" transform="translate(577.4 444.5) scale(1 1.13)" text-anchor="middle">Distance (km)</text></g>
</svg>
</body></html>
